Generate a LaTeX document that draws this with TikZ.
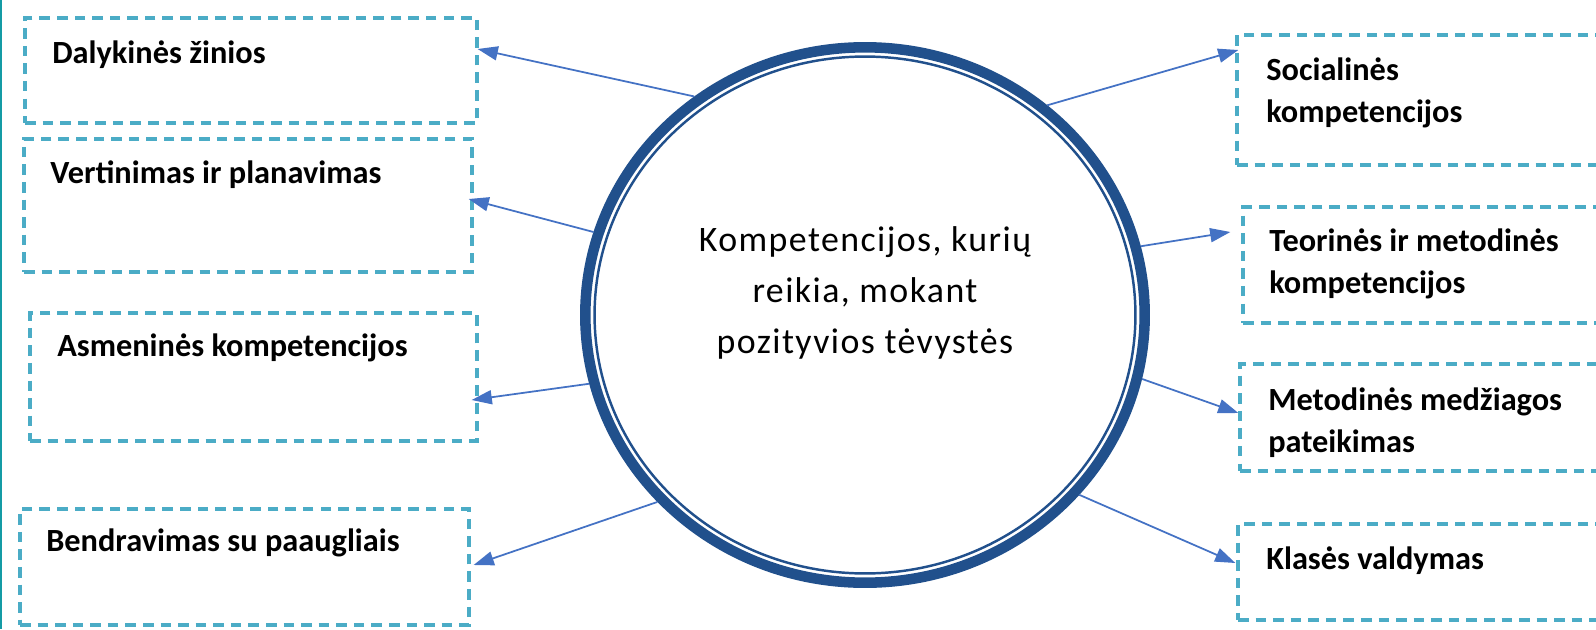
\documentclass[tikz,border=0pt]{standalone}
\usepackage{fontspec}
\setmainfont{Carlito}
\newfontfamily\ringfont[LetterSpace=4]{Carlito}
\usetikzlibrary{arrows.meta,shapes.geometric}
\definecolor{ringblue}{RGB}{33,80,140}
\definecolor{arrowblue}{RGB}{68,114,196}
\definecolor{dashcyan}{RGB}{75,172,198}
\definecolor{edgeteal}{RGB}{20,155,165}
\tikzset{
  box/.style={
    draw=dashcyan,
    line width=1.9pt,
    dash pattern=on 6pt off 4pt,
    inner sep=0
  },
  boxtext/.style={
    anchor=base west,
    inner sep=0,
    align=left,
    font=\fontsize{18.4}{23.8}\selectfont\bfseries
  },
  ring/.style={
    shape=ellipse,
    draw=ringblue,
    line width=6pt,
    inner sep=0,
    minimum width=11.19cm,
    minimum height=10.71cm
  },
  ringtext/.style={
    align=center,
    inner sep=0,
    font=\fontsize{20.4}{28.9}\selectfont\ringfont
  },
  link/.style={
    draw=arrowblue,
    line width=1pt,
    -{Triangle[length=11.5pt,width=8pt]}
  }
}
\begin{document}
\begin{tikzpicture}[x=0.02cm,y=-0.02cm]
  \useasboundingbox (0,0) rectangle (1596,629);
  \clip (0,0) rectangle (1596,629);
  \draw[edgeteal,line width=1.2pt] (1,0) -- (1,629);
  % left boxes
  \node[box,minimum width=9.04cm,minimum height=2.1cm] (b1) at (251,70.5) {};
  \node[box,minimum width=8.96cm,minimum height=2.66cm] (b2) at (248,205.5) {};
  \node[box,minimum width=8.94cm,minimum height=2.56cm] (b3) at (253.5,377) {};
  \node[box,minimum width=8.98cm,minimum height=2.32cm] (b4) at (244.5,567) {};
  % right boxes
  \node[box,minimum width=7.66cm,minimum height=2.6cm] (b5) at (1428.5,100) {};
  \node[box,minimum width=7.54cm,minimum height=2.32cm] (b6) at (1431.5,265) {};
  \node[box,minimum width=7.6cm,minimum height=2.14cm] (b7) at (1430,417.5) {};
  \node[box,minimum width=7.64cm,minimum height=1.92cm] (b8) at (1429,572) {};
  % base west of a two-line node is the baseline of its last line
  \node[boxtext] (t1) at (52,63) {Dalykinės žinios};
  \node[boxtext] (t2) at (50,183) {Vertinimas ir planavimas};
  \node[boxtext] (t3) at (57,356) {Asmeninės kompetencijos};
  \node[boxtext] (t4) at (46,551) {Bendravimas su paaugliais};
  \node[boxtext] (t5) at (1266,122) {Socialinės\\kompetencijos};
  \node[boxtext] (t6) at (1269,293) {Teorinės ir metodinės\\kompetencijos};
  \node[boxtext] (t7) at (1268,452) {Metodinės medžiagos\\pateikimas};
  \node[boxtext] (t8) at (1266,569) {Klasės valdymas};
  % centre
  \node[ring] (ring) at (865,315) {};
  \draw[ringblue,line width=1.4pt] (ring.center) ellipse [x radius=5.41cm,y radius=5.17cm];
  \node[ringtext,anchor=base] (title) at (865,353) {Kompetencijos, kurių\\reikia, mokant\\pozityvios tėvystės};
  \foreach \ang/\to/\side/\off in {128.2/b1/east/{(-1,-21.5)},163.5/b2/east/{(-5,-6.5)},
      -166.2/b3/east/{(-7,23)},-138.1/b4/east/{(3,-2)},49.1/b5/west/{(3,-50)},
      14.9/b6/west/{(-11,-33)},-13.8/b7/west/{(0,-4.5)},-40.6/b8/west/{(-1,-9)}}
    \draw[link] (ring.\ang) -- ([shift=\off]\to.\side);
\end{tikzpicture}
\end{document}
